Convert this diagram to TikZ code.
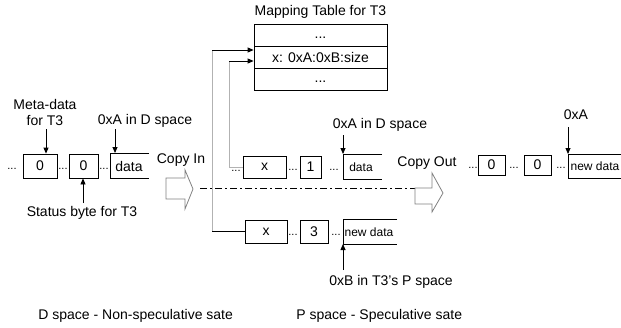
\documentclass[tikz,border=0pt]{standalone}
\usepackage{fontspec}
\setmainfont{Liberation Sans}
\usetikzlibrary{arrows.meta}
\begin{document}
\begin{tikzpicture}[x=1pt,y=-1pt,
  line width=0.8pt,
  lbl/.style={font=\fontsize{14}{16}\selectfont, inner sep=0pt},
  smalltxt/.style={font=\fontsize{12}{14}\selectfont, inner sep=0pt},
  dotsep/.style={font=\fontsize{11}{13}\selectfont, inner sep=0pt, anchor=base},
  cell/.style={draw, font=\fontsize{14}{16}\selectfont, inner sep=0pt, minimum height=#1},
  cell/.default=24pt,
  trow/.style={draw, font=\fontsize{14}{16}\selectfont, inner sep=0pt, minimum width=133pt, minimum height=22pt},
  arr/.style={-{Triangle[length=6pt,width=5pt]}},
  lead/.style={draw=black!30},
  blockarrow/.style={draw=black!50, line width=0.8pt},
  dashdot/.style={dash pattern=on 7pt off 3pt on 2pt off 3pt}
]
\useasboundingbox (0,0) rectangle (621,327);

% ---------- mapping table ----------
\node[lbl] (title) at (320.5,12) {Mapping Table for T3};
\node[trow] (r1) at (320.5,35) {...\strut};
\node[trow] (r2) at (320.5,57) {x: 0xA:0xB:size};
\node[trow] (r3) at (320.5,79.5) {...\strut};

% ---------- left row (D space before copy in) ----------
\node[dotsep] (ld0) at (12,169) {...};
\node[cell, minimum width=34pt] (l1) at (40,166) {0};
\node[dotsep] (ld1) at (63,169) {...};
\node[cell, minimum width=29pt] (l2) at (83.5,166) {0};
\node[dotsep] (ld2) at (104,169) {...};
\draw (149,153) -- (110,153) -- (110,178) -- (149,178);
\node[lbl] (ldata) at (129,166) {data};

\node[lbl, align=center] (meta) at (45,112) {Meta-data\\for T3};
\coordinate (m0) at (46,129);
\draw[arr] (m0) -- (m0 |- l1.north);

\node[lbl] (la) at (145,121) {0xA in D space};
\coordinate (a0) at (115,129);
\draw[arr] (a0) -- (115,153);

\node[lbl] (status) at (82,213) {Status byte for T3};
\coordinate (s0) at (83,203);
\draw[arr] (s0) -- (s0 |- l2.south);

% ---------- copy in ----------
\node[lbl] (cin) at (181,160) {Copy In};
\draw[blockarrow] (166,178) -- (185,178) -- (185,170) -- (193,189)
  -- (185,209) -- (185,199) -- (166,199) -- cycle;
\coordinate (dd0) at (200,188);
\coordinate (dd1) at (415,188);
\draw[dashdot] (dd0) -- (dd1);

% ---------- middle row (D space entry) ----------
\node[cell=22pt, minimum width=43pt] (x1) at (264.5,167) {x};
\node[dotsep] (md1) at (293,170) {...};
\node[cell=22pt, minimum width=21pt] (c1) at (310.5,167) {1};
\node[dotsep] (md2) at (334,170) {...};
\draw (382,154) -- (343,154) -- (343,179) -- (382,179);
\node[smalltxt] (mdata) at (361,167) {data};
\node[dotsep] (md0) at (236,171) {...};

\node[lbl] (ma) at (380,125) {0xA in D space};
\coordinate (ma0) at (343,135);
\draw[arr] (ma0) -- (343,154);

% ---------- bottom row (P space entry) ----------
\node[cell=23pt, minimum width=42pt] (x2) at (266,231.5) {x};
\node[dotsep] (bd1) at (293,235) {...};
\node[cell=23pt, minimum width=28pt] (c3) at (314,231.5) {3};
\node[dotsep] (bd2) at (336,235) {...};
\draw (397,219) -- (343,219) -- (343,244) -- (397,244);
\node[smalltxt] (bdata) at (369,232) {new data};

\node[lbl] (pb) at (391,282) {0xB in T3's P space};
\coordinate (pb0) at (343,270);
\draw[arr] (pb0) -- (343,244);

% ---------- links from the rows to the mapping entry ----------
\coordinate (v1) at (212,50);
\coordinate (v2) at (229,61);
\draw[lead] (v1) -- (v1 |- x2.west);
\draw (v1 |- x2.west) -- (x2.west);
\draw[arr] (v1) -- (v1 -| r2.west);
\draw[lead] (v2) |- (x1.west);
\draw[arr] (v2) -- (v2 -| r2.west);

% ---------- copy out ----------
\node[lbl] (cout) at (427,163) {Copy Out};
\draw[blockarrow] (415,188) -- (432,188) -- (432,173) -- (443,193)
  -- (432,212) -- (432,204) -- (415,204) -- cycle;

% ---------- right row (D space after copy out) ----------
\node[dotsep] (rd0) at (473,168) {...};
\node[cell=20pt, minimum width=27pt] (o1) at (491.5,165) {0};
\node[dotsep] (rd1) at (514,168) {...};
\node[cell=20pt, minimum width=27pt] (o2) at (537.5,165) {0};
\node[dotsep] (rd2) at (561,168) {...};
\draw (621,154) -- (568,154) -- (568,178) -- (621,178);
\node[smalltxt] (rdata) at (595,166) {new data};

\node[lbl] (ra) at (576,115) {0xA};
\coordinate (ra0) at (568,127);
\draw[arr] (ra0) -- (568,154);

% ---------- legend ----------
\node[lbl, anchor=west] (dleg) at (38,316) {D space - Non-speculative sate};
\node[lbl, anchor=west] (pleg) at (296,316) {P space - Speculative sate};
\end{tikzpicture}
\end{document}
